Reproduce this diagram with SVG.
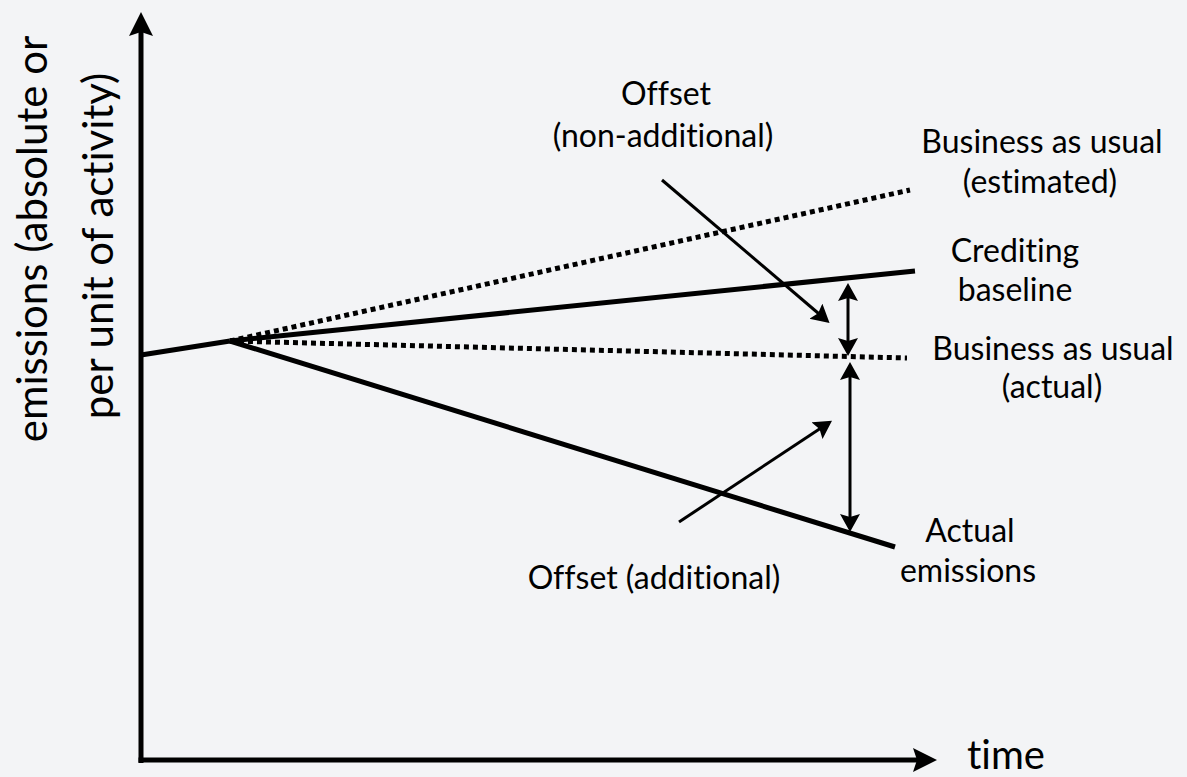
<svg xmlns="http://www.w3.org/2000/svg" width="1187" height="777" viewBox="0 0 1187 777">
<style>
.t{font-family:Lato,"Open Sans","Liberation Sans",sans-serif;font-size:32px;fill:#000;text-anchor:middle;font-variant-ligatures:none;font-feature-settings:"liga" 0}
.big{font-size:42px}
.axis{stroke:#000;stroke-width:5;fill:none}
.main{stroke:#000;stroke-width:5;fill:none}
.dot{stroke:#000;stroke-width:5;fill:none;stroke-dasharray:5 4}
.arr{stroke:#000;stroke-width:3;fill:none}
</style>
<defs>
<marker id="ah" markerUnits="userSpaceOnUse" markerWidth="30" markerHeight="30" refX="16" refY="12" orient="auto">
<path d="M0,0 L24,12 L0,24 L4,12 Z" fill="#000"/>
</marker>
<marker id="sh" markerUnits="userSpaceOnUse" markerWidth="24" markerHeight="24" refX="12" refY="10" orient="auto-start-reverse">
<path d="M0,0 L18,10 L0,20 L3,10 Z" fill="#000"/>
</marker>
</defs>
<rect width="1187" height="777" fill="#f3f4f6"/>
<g id="axes">
<line class="axis" x1="141" y1="763" x2="141" y2="20" marker-end="url(#ah)"/>
<line class="axis" x1="138.5" y1="760" x2="929" y2="760" marker-end="url(#ah)"/>
</g>
<g id="y-label">
<text class="t big" transform="translate(47,239) rotate(-90)">emissions (absolute or</text>
<text class="t big" transform="translate(113,246) rotate(-90)">per unit of activity)</text>
</g>
<g id="x-label"><text class="t big" x="967" y="769" style="text-anchor:start;font-size:40px">time</text></g>
<g id="series">
<line class="main" x1="141" y1="355" x2="230" y2="341"/>
<line class="dot" x1="230" y1="341" x2="910" y2="190"/>
<line class="main" x1="230" y1="341" x2="915" y2="271"/>
<line class="dot" x1="230" y1="341" x2="907" y2="358"/>
<line class="main" x1="230" y1="341" x2="895" y2="547"/>
</g>
<g id="connectors">
<line class="arr" x1="662" y1="180" x2="825" y2="319" marker-end="url(#sh)"/>
<line class="arr" x1="679" y1="522" x2="827" y2="424" marker-end="url(#sh)"/>
<line class="arr" x1="848" y1="289" x2="848" y2="350" marker-start="url(#sh)" marker-end="url(#sh)"/>
<line class="arr" x1="850" y1="368" x2="850" y2="526" marker-start="url(#sh)" marker-end="url(#sh)"/>
</g>
<g id="label-offset-nonadditional">
<text class="t" x="666" y="105">Offset</text>
<text class="t" x="663" y="147">(non-additional)</text>
</g>
<g id="label-bau-estimated">
<text class="t" x="1042" y="153">Business as usual</text>
<text class="t" x="1040" y="193">(estimated)</text>
</g>
<g id="label-crediting-baseline">
<text class="t" x="1015" y="262">Crediting</text>
<text class="t" x="1015" y="301">baseline</text>
</g>
<g id="label-bau-actual">
<text class="t" x="1053" y="360">Business as usual</text>
<text class="t" x="1052" y="398">(actual)</text>
</g>
<g id="label-actual-emissions">
<text class="t" x="970" y="542">Actual</text>
<text class="t" x="968" y="582">emissions</text>
</g>
<g id="label-offset-additional">
<text class="t" x="654" y="589">Offset (additional)</text>
</g>
</svg>
